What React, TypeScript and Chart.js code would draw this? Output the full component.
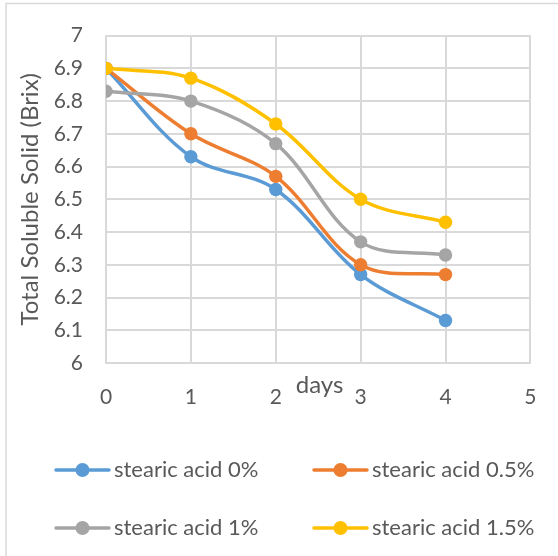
import React, { useEffect, useRef } from "react";
import { Chart, registerables } from "chart.js";

Chart.register(...registerables);

const days = [0, 1, 2, 3, 4];
const seriesLabels = ["stearic acid 0%", "stearic acid 0.5%", "stearic acid 1%", "stearic acid 1.5%"];
const acid0 = [6.9, 6.63, 6.53, 6.27, 6.13];
const acid05 = [6.9, 6.7, 6.57, 6.3, 6.27];
const acid1 = [6.83, 6.8, 6.67, 6.37, 6.33];
const acid15 = [6.9, 6.87, 6.73, 6.5, 6.43];
const seriesValues = [acid0, acid05, acid1, acid15];
const seriesColors = ["#5B9BD5", "#ED7D31", "#A5A5A5", "#FFC000"];
const xMin = 0;
const xMax = 5;
const xStep = 1;
const yMin = 6;
const yMax = 7;
const yStep = 0.1;
const xTitle = "days";
const yTitle = "Total Soluble Solid (Brix)";

const FONT = "Lato, 'Open Sans', sans-serif";
const TEXT = "#595959";
const GRID = "#d9d9d9";

const decorPlugin = {
  id: "decor",
  beforeDraw(chart: any) {
    const ctx = chart.ctx;
    ctx.save();
    ctx.strokeStyle = GRID;
    ctx.lineWidth = 1.5;
    ctx.beginPath();
    ctx.moveTo(6, 556);
    ctx.lineTo(6, 3.5);
    ctx.lineTo(558, 3.5);
    ctx.stroke();
    ctx.restore();
  },
  afterDraw(chart: any) {
    const ctx = chart.ctx;
    ctx.save();
    // x axis title
    ctx.fillStyle = TEXT;
    ctx.font = `24px ${FONT}`;
    ctx.textAlign = "center";
    ctx.textBaseline = "alphabetic";
    ctx.fillText(xTitle, 319.5, 393);
    // legend
    const cols = [56, 314];
    const rows = [470, 528];
    ctx.font = `22px ${FONT}`;
    chart.data.datasets.forEach((ds: any, i: number) => {
      const x = cols[i % 2];
      const y = rows[Math.floor(i / 2)];
      ctx.strokeStyle = ds.borderColor;
      ctx.lineWidth = 3.5;
      ctx.lineCap = "round";
      ctx.beginPath();
      ctx.moveTo(x, y);
      ctx.lineTo(x + 53, y);
      ctx.stroke();
      ctx.fillStyle = ds.borderColor;
      ctx.beginPath();
      ctx.arc(x + 26.5, y, 7, 0, Math.PI * 2);
      ctx.fill();
      ctx.fillStyle = TEXT;
      ctx.textAlign = "left";
      ctx.textBaseline = "middle";
      ctx.fillText(ds.label, x + 58, y);
    });
    ctx.restore();
  },
};

export default function App() {
  const ref = useRef<HTMLCanvasElement | null>(null);
  useEffect(() => {
    if (!ref.current) return;
    const datasets = seriesLabels.map((label, i) => ({
      label,
      data: days.map((d, j) => ({ x: d, y: seriesValues[i][j] })),
      borderColor: seriesColors[i],
      backgroundColor: seriesColors[i],
      pointBackgroundColor: seriesColors[i],
      pointBorderColor: seriesColors[i],
      borderWidth: 3.5,
      pointRadius: 6.7,
      pointBorderWidth: 0,
      tension: 0.35,
      fill: false,
      order: seriesLabels.length - i,
    }));
    const chart = new Chart(ref.current, {
      type: "line",
      data: { datasets },
      plugins: [decorPlugin],
      options: {
        animation: false,
        responsive: false,
        layout: { padding: { top: 35, right: 24, bottom: 0, left: 0 } },
        plugins: { legend: { display: false }, tooltip: { enabled: false } },
        scales: {
          x: {
            type: "linear",
            min: xMin,
            max: xMax,
            afterFit(scale: any) {
              scale.height = 193;
            },
            ticks: {
              stepSize: xStep,
              color: TEXT,
              font: { family: FONT, size: 21 },
              padding: 21.5,
            },
            grid: { color: GRID, lineWidth: 2, drawTicks: false },
            border: { color: GRID, width: 2 },
          },
          y: {
            type: "linear",
            min: yMin,
            max: yMax,
            afterFit(scale: any) {
              scale.width = 106;
            },
            ticks: {
              stepSize: yStep,
              color: TEXT,
              font: { family: FONT, size: 21 },
              padding: 23,
              callback: (v: any) => String(Number(Number(v).toFixed(1))),
            },
            title: {
              display: true,
              text: yTitle,
              color: TEXT,
              font: { family: FONT, size: 24 },
              padding: { top: 15.5, bottom: 0 },
            },
            grid: { color: GRID, lineWidth: 2, drawTicks: false },
            border: { color: GRID, width: 2 },
          },
        },
      },
    });
    return () => chart.destroy();
  }, []);
  return (
    <div style={{ position: "absolute", left: 0, top: 0, width: 558, height: 556, background: "#fff" }}>
      <canvas ref={ref} width={558} height={556} />
    </div>
  );
}
